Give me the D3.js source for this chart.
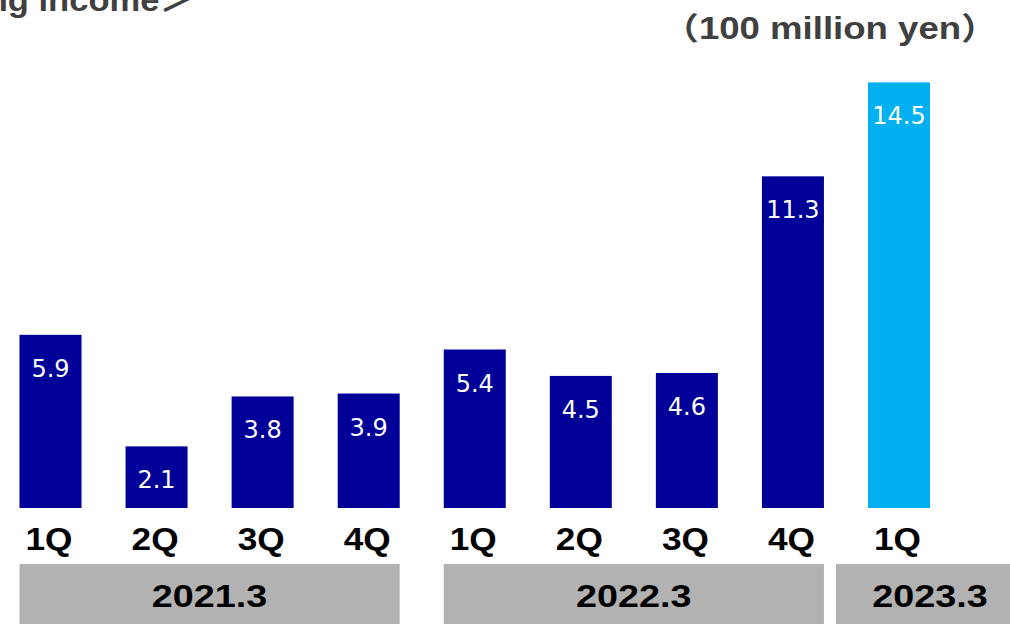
<!DOCTYPE html>
<html>
<head>
<meta charset="utf-8">
<script src="https://cdn.jsdelivr.net/npm/d3@7"></script>
<style>
  html, body { margin: 0; padding: 0; background: #fff; overflow: hidden; }
  svg { display: block; }
</style>
</head>
<body>
<script>
// ---- data ----
const quarters = ["1Q", "2Q", "3Q", "4Q", "1Q", "2Q", "3Q", "4Q", "1Q"];
const fiscalYears = ["2021.3", "2021.3", "2021.3", "2021.3", "2022.3", "2022.3", "2022.3", "2022.3", "2023.3"];
const values = [5.9, 2.1, 3.8, 3.9, 5.4, 4.5, 4.6, 11.3, 14.5];
const yearGroups = ["2021.3", "2022.3", "2023.3"];
const titleText = "＜Operating income＞";
const unitText = "（100 million yen）";

// ---- layout ----
const W = 1010, H = 624;
const svg = d3.select("body").append("svg").attr("width", W).attr("height", H);

const idx = d3.range(values.length);
const x = d3.scaleBand().domain(idx).range([19.5, 930]).paddingInner(0.4154).paddingOuter(0);
const y = d3.scaleLinear().domain([0, 14.5]).range([508, 82.4]);

const barColor = d3.scaleOrdinal().domain(yearGroups).range(["#000099", "#000099", "#00B0F0"]);

const boldFont = "'Liberation Sans', Arial, 'Noto Sans CJK JP', sans-serif";

// title (cut off at top, as in the source)
svg.append("text")
  .attr("transform", "translate(194,11) scale(1.08,1)")
  .attr("text-anchor", "end")
  .attr("font-family", boldFont).attr("font-weight", "bold").attr("font-size", 32)
  .attr("fill", "#404040")
  .text(titleText);

// unit
svg.append("text")
  .attr("transform", "translate(830,39) scale(1.18,1)")
  .attr("text-anchor", "middle")
  .attr("font-family", boldFont).attr("font-weight", "bold").attr("font-size", 31)
  .attr("fill", "#404040")
  .text(unitText);

// bars
svg.selectAll("rect.bar").data(idx).join("rect")
  .attr("class", "bar")
  .attr("x", i => x(i))
  .attr("y", i => y(values[i]))
  .attr("width", x.bandwidth())
  .attr("height", i => y(0) - y(values[i]))
  .attr("fill", i => barColor(fiscalYears[i]));

// value labels
svg.selectAll("text.val").data(idx).join("text")
  .attr("class", "val")
  .attr("x", i => x(i) + x.bandwidth() / 2)
  .attr("y", i => y(values[i]) + 42)
  .attr("text-anchor", "middle")
  .attr("font-family", "'DejaVu Sans', Verdana, sans-serif")
  .attr("font-size", 24)
  .attr("fill", "#ffffff")
  .text(i => values[i].toFixed(1));

// quarter labels
svg.selectAll("text.q").data(idx).join("text")
  .attr("class", "q")
  .attr("transform", i => `translate(${x(i) + x.bandwidth() / 2 - 1.5},550) scale(1.1,1)`)
  .attr("text-anchor", "middle")
  .attr("font-family", boldFont).attr("font-weight", "bold").attr("font-size", 32)
  .attr("fill", "#000")
  .text(i => quarters[i]);

// fiscal year bands
const bands = yearGroups.map((g, k) => {
  const members = idx.filter(i => fiscalYears[i] === g);
  const first = members[0], last = members[members.length - 1];
  let x0 = x(first), x1 = x(last) + x.bandwidth();
  if (k === yearGroups.length - 1) { x0 = x(first) - 32; x1 = 1024; }
  return { g, x0, x1 };
});
svg.selectAll("rect.band").data(bands).join("rect")
  .attr("class", "band")
  .attr("x", d => d.x0).attr("y", 564)
  .attr("width", d => d.x1 - d.x0).attr("height", 70)
  .attr("fill", "#B2B2B2");
svg.selectAll("text.band").data(bands).join("text")
  .attr("class", "band")
  .attr("transform", d => `translate(${(d.x0 + d.x1) / 2},606.5) scale(1.18,1)`)
  .attr("text-anchor", "middle")
  .attr("font-family", boldFont).attr("font-weight", "bold").attr("font-size", 32)
  .attr("fill", "#000")
  .text(d => d.g);
</script>
</body>
</html>
